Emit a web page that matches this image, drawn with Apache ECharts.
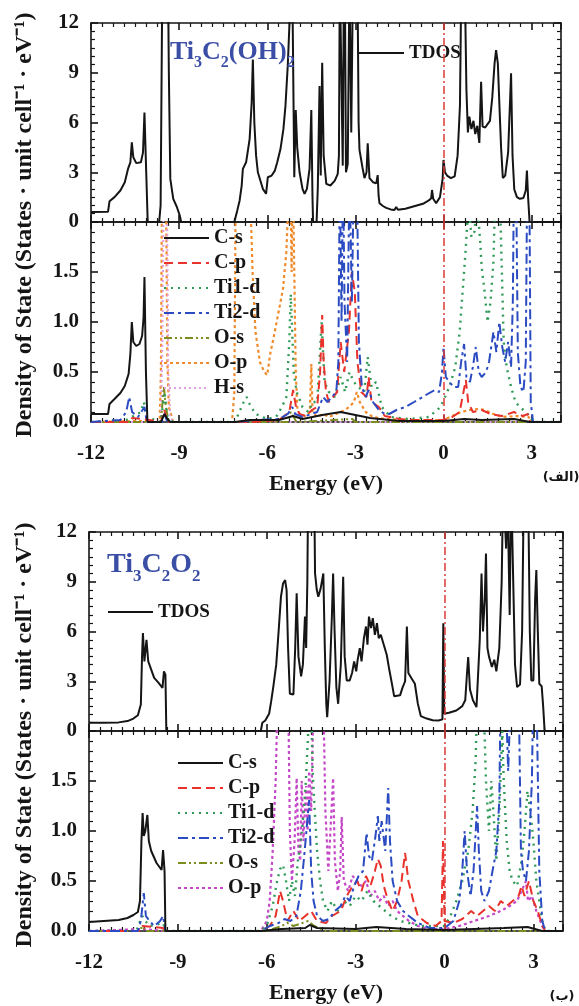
<!DOCTYPE html>
<html><head><meta charset="utf-8">
<script src="https://cdn.jsdelivr.net/npm/echarts@6/dist/echarts.min.js"></script>
<style>html,body{margin:0;padding:0;background:#fff}#c{width:579px;height:1006px}</style>
</head><body><div id="c"></div>
<script>
// ---------------- data ----------------
const X_TICKS = [-12, -9, -6, -3, 0, 3];
const TDOS_TICKS = [0, 3, 6, 9, 12];
const PDOS_TICKS = [0, 0.5, 1, 1.5];
const ORBITALS_A = ['C-s', 'C-p', 'Ti1-d', 'Ti2-d', 'O-s', 'O-p', 'H-s'];
const ORBITALS_B = ['C-s', 'C-p', 'Ti1-d', 'Ti2-d', 'O-s', 'O-p'];

// Panel (الف) Ti3C2(OH)2 total DOS
const A_TDOS = [[-12,0.6],[-11.42,0.62],[-11.37,1.25],[-11.2,1.5],[-11.0,1.9],[-10.85,2.4],[-10.74,3.2],[-10.66,3.6],[-10.61,4.8],[-10.56,3.9],[-10.46,3.55],[-10.3,3.6],[-10.23,4.2],[-10.18,6.6],[-10.12,3.0],[-10.07,0],[-9.68,0],[-9.63,1.0],[-9.6,8],[-9.57,15],[-9.38,15],[-9.35,9],[-9.3,2.6],[-9.2,1.4],[-9.08,0.92],[-8.98,0.4],[-8.93,0],[-7.12,0],[-7.02,0.7],[-6.94,1.3],[-6.87,2.2],[-6.83,3.2],[-6.72,3.6],[-6.6,5.0],[-6.53,7.2],[-6.49,9.8],[-6.44,6],[-6.38,4.0],[-6.32,3.0],[-6.15,2.0],[-6.04,1.7],[-5.98,2.7],[-5.85,2.8],[-5.74,3.1],[-5.66,3.6],[-5.55,4.4],[-5.45,5.6],[-5.38,7],[-5.3,9.5],[-5.22,13],[-5.15,15],[-5.12,15],[-5.08,2.7],[-5.03,6.75],[-4.98,4.5],[-4.9,3.0],[-4.8,2.0],[-4.73,1.7],[-4.65,2.0],[-4.56,3.2],[-4.5,6.75],[-4.46,1.5],[-4.44,0],[-4.32,0],[-4.28,2.0],[-4.22,8.2],[-4.18,2.8],[-4.13,9.6],[-4.08,4.0],[-3.99,2.3],[-3.85,2.2],[-3.7,2.5],[-3.6,2.9],[-3.56,4],[-3.53,15],[-3.47,15],[-3.43,3.4],[-3.39,15],[-3.35,12],[-3.32,3.0],[-3.26,3.5],[-3.2,15],[-3.14,5.4],[-3.08,15],[-2.93,15],[-2.89,6],[-2.86,4.35],[-2.76,3.3],[-2.69,2.65],[-2.62,3.0],[-2.58,4.75],[-2.52,2.65],[-2.4,2.4],[-2.29,2.33],[-2.24,2.83],[-2.21,1.6],[-2.18,1.13],[-2.05,0.95],[-1.95,0.85],[-1.8,0.76],[-1.67,0.72],[-1.61,0.9],[-1.55,0.74],[-1.3,0.8],[-1.0,0.95],[-0.7,1.1],[-0.5,1.3],[-0.42,1.43],[-0.39,1.93],[-0.35,1.4],[-0.25,1.13],[-0.12,1.5],[-0.03,2.6],[0.0,3.74],[0.05,3.0],[0.12,2.8],[0.25,2.65],[0.38,2.75],[0.48,4.0],[0.56,7],[0.61,15],[0.72,15],[0.78,8],[0.83,5.4],[0.88,6.35],[0.95,5.6],[1.02,6.1],[1.08,5.3],[1.15,5.8],[1.22,4.77],[1.28,8.46],[1.33,5.75],[1.42,5.7],[1.5,5.9],[1.58,6.1],[1.66,7.5],[1.74,9.6],[1.79,10.37],[1.85,9.57],[1.9,7.2],[1.96,4.5],[2.02,2.65],[2.1,2.8],[2.2,4.2],[2.27,7.5],[2.3,8.97],[2.35,4],[2.41,1.96],[2.5,1.5],[2.6,1.4],[2.72,1.45],[2.8,1.9],[2.84,3.1],[2.88,1.5],[2.93,0],[4,0]];

// Panel (الف) partial DOS
const A_CS = [[-12,0.08],[-11.42,0.08],[-11.37,0.18],[-11.2,0.23],[-11.0,0.29],[-10.85,0.36],[-10.72,0.48],[-10.66,0.68],[-10.61,1.0],[-10.56,0.8],[-10.46,0.76],[-10.35,0.78],[-10.26,0.86],[-10.21,1.05],[-10.18,1.45],[-10.13,0.5],[-10.08,0],[-9.62,0],[-9.5,0.08],[-9.4,0.03],[-9.3,0],[-7.1,0],[-6.6,0.02],[-5.6,0.02],[-5.12,0.06],[-4.8,0.03],[-4.13,0.07],[-3.5,0.1],[-3.0,0.07],[-2.5,0.04],[-1.5,0.01],[0,0.01],[0.7,0.03],[1.3,0.02],[2.4,0.03],[2.95,0],[4,0]];
const A_CP = [[-12,0],[-10.7,0],[-10.6,0.04],[-10.2,0.03],[-9.62,0],[-9.5,0.12],[-9.4,0],[-6.5,0],[-5.6,0.02],[-5.25,0.1],[-5.12,0.32],[-5.02,0.15],[-4.9,0.08],[-4.7,0.06],[-4.48,0.12],[-4.3,0.15],[-4.2,0.5],[-4.13,1.07],[-4.08,0.6],[-4.0,0.3],[-3.9,0.2],[-3.62,0.3],[-3.5,0.8],[-3.38,0.5],[-3.22,0.9],[-3.12,1.5],[-3.02,1.3],[-2.93,0.6],[-2.8,0.3],[-2.62,0.25],[-2.55,0.45],[-2.45,0.2],[-2.2,0.15],[-2.0,0.06],[-1.5,0.03],[-1,0.02],[0,0.02],[0.3,0.05],[0.55,0.1],[0.68,0.3],[0.76,0.42],[0.84,0.2],[1.0,0.1],[1.3,0.12],[1.6,0.08],[2.0,0.06],[2.4,0.1],[2.7,0.06],[2.88,0.08],[2.95,0],[4,0]];
const A_TI1D = [[-12,0],[-10.8,0.02],[-10.3,0.1],[-10.2,0.2],[-10.12,0.05],[-9.62,0],[-9.5,0.3],[-9.4,0.05],[-9.2,0],[-7.1,0],[-6.95,0.1],[-6.8,0.2],[-6.7,0.25],[-6.6,0.18],[-6.4,0.08],[-6.0,0.03],[-5.7,0.05],[-5.5,0.15],[-5.35,0.25],[-5.25,0.8],[-5.2,1.28],[-5.15,0.9],[-5.1,0.5],[-5.0,0.3],[-4.8,0.15],[-4.6,0.1],[-4.45,0.2],[-4.3,0.2],[-4.15,1.0],[-4.05,0.4],[-3.9,0.3],[-3.7,0.25],[-3.5,0.45],[-3.35,0.3],[-3.2,0.5],[-3.05,0.4],[-2.9,0.35],[-2.7,0.3],[-2.58,0.65],[-2.45,0.35],[-2.3,0.4],[-2.1,0.15],[-1.8,0.05],[-1.2,0.03],[-0.5,0.05],[-0.1,0.15],[0.2,0.35],[0.4,0.55],[0.55,0.9],[0.65,1.3],[0.75,1.7],[0.85,2.2],[0.95,1.85],[1.05,1.9],[1.15,2.2],[1.25,1.8],[1.3,1.55],[1.4,1.3],[1.5,1.0],[1.6,1.2],[1.7,1.6],[1.78,2.5],[1.9,2.5],[1.96,1.8],[2.05,0.8],[2.15,0.55],[2.3,0.35],[2.45,0.2],[2.6,0.15],[2.8,0.1],[2.95,0.05],[3.05,0],[4,0]];
const A_TI2D = [[-12,0],[-11,0.02],[-10.8,0.1],[-10.7,0.25],[-10.6,0.1],[-10.4,0.05],[-10.18,0.15],[-10.1,0],[-9.58,0],[-9.5,0.08],[-9.4,0],[-7,0],[-6.5,0.02],[-5.6,0.03],[-5.3,0.08],[-5.15,0.15],[-5.05,0.08],[-4.8,0.05],[-4.5,0.08],[-4.3,0.1],[-4.1,0.25],[-3.95,0.2],[-3.8,0.25],[-3.65,0.3],[-3.58,0.6],[-3.53,2.5],[-3.47,1.0],[-3.42,2.5],[-3.37,1.2],[-3.28,0.6],[-3.2,2.5],[-3.12,1.2],[-3.05,2.5],[-2.95,2.5],[-2.88,0.8],[-2.78,0.35],[-2.65,0.25],[-2.55,0.32],[-2.4,0.2],[-2.2,0.12],[-2.0,0.08],[-1.85,0.08],[-1.6,0.12],[-1.3,0.15],[-1.0,0.2],[-0.6,0.27],[-0.3,0.32],[-0.15,0.3],[-0.05,0.5],[0.0,0.75],[0.08,0.45],[0.2,0.4],[0.35,0.35],[0.5,0.35],[0.6,0.6],[0.7,0.78],[0.78,0.45],[0.9,0.4],[1.0,0.55],[1.1,0.75],[1.2,0.5],[1.3,0.45],[1.45,0.5],[1.55,0.6],[1.7,0.9],[1.8,0.7],[1.9,1.0],[2.0,0.75],[2.1,0.6],[2.2,0.8],[2.3,0.55],[2.36,1.2],[2.4,2.5],[2.47,2.5],[2.53,0.7],[2.62,0.35],[2.72,0.3],[2.8,0.6],[2.85,2.5],[2.92,2.5],[2.97,0.2],[3.05,0],[4,0]];
const A_OS = [[-12,0],[-9.62,0],[-9.52,0.35],[-9.45,0.15],[-9.35,0],[-5.3,0],[-5.2,0.1],[-5.1,0.05],[-5.0,0],[-3.1,0.03],[-3.0,0],[4,0]];
const A_OP = [[-12,0],[-10.2,0.01],[-9.66,0],[-9.62,0.5],[-9.58,2.5],[-9.45,2.5],[-9.4,0.6],[-9.35,0.15],[-9.2,0],[-7.2,0],[-7.12,0.3],[-7.07,2.5],[-6.6,2.5],[-6.5,1.5],[-6.4,0.9],[-6.25,0.6],[-6.1,0.5],[-6.0,0.47],[-5.9,0.68],[-5.78,0.85],[-5.68,1.0],[-5.55,1.2],[-5.46,1.34],[-5.35,1.7],[-5.28,2.2],[-5.22,2.5],[-5.17,1.5],[-5.13,2.5],[-5.08,2.5],[-5.03,0.5],[-4.98,0.15],[-4.9,0.08],[-4.7,0.06],[-4.55,0.1],[-4.5,0.58],[-4.46,0.1],[-4.3,0.05],[-4.1,0.08],[-3.9,0.05],[-3.5,0.1],[-3.2,0.15],[-3.05,0.2],[-2.95,0.3],[-2.85,0.2],[-2.65,0.1],[-2.4,0.05],[-2.0,0.03],[-1,0.02],[0,0.02],[0.3,0.06],[0.6,0.1],[0.9,0.12],[1.2,0.13],[1.4,0.12],[1.7,0.08],[2.0,0.05],[2.5,0.06],[2.9,0.05],[3.0,0],[4,0]];
const A_HS = [[-12,0],[-9.62,0],[-9.57,0.8],[-9.52,2.5],[-9.42,2.5],[-9.37,0.5],[-9.3,0.05],[-9.2,0],[4,0]];

// Panel (ب) Ti3C2O2 total DOS
const B_TDOS = [[-12,0.5],[-11.5,0.5],[-11,0.52],[-10.7,0.6],[-10.5,0.75],[-10.35,0.95],[-10.25,1.6],[-10.21,4.5],[-10.18,5.9],[-10.13,4.2],[-10.06,5.5],[-10.0,4.2],[-9.9,3.7],[-9.8,3.2],[-9.65,2.9],[-9.52,2.6],[-9.47,3.6],[-9.42,3.4],[-9.39,0],[-6.2,0],[-6.15,0.5],[-6.05,0.63],[-5.92,1.04],[-5.85,1.8],[-5.78,2.65],[-5.68,4.0],[-5.6,6],[-5.52,8.1],[-5.45,8.9],[-5.38,9.1],[-5.33,8.5],[-5.28,5],[-5.22,2.25],[-5.1,2.2],[-5.04,5],[-4.99,8.3],[-4.93,4.5],[-4.84,3.3],[-4.78,4.0],[-4.71,6.9],[-4.67,5.0],[-4.63,9],[-4.6,15],[-4.4,15],[-4.37,9.5],[-4.31,8.5],[-4.26,8.1],[-4.18,8.6],[-4.09,9.5],[-4.04,5],[-3.99,1.64],[-3.96,0.83],[-3.88,3],[-3.8,7],[-3.76,9.5],[-3.71,6],[-3.65,2.65],[-3.59,1.64],[-3.5,4],[-3.42,9.3],[-3.37,4.5],[-3.3,3.05],[-3.2,3.05],[-3.12,3.5],[-3.05,4.2],[-2.98,3.6],[-2.93,4.3],[-2.86,5.0],[-2.8,4.2],[-2.72,5.6],[-2.65,6.3],[-2.6,5.2],[-2.55,6.9],[-2.48,6.2],[-2.42,6.8],[-2.35,5.8],[-2.28,6.5],[-2.22,5.6],[-2.15,5.8],[-2.05,5.2],[-1.95,4.6],[-1.86,3.66],[-1.78,2.9],[-1.7,2.1],[-1.5,2.15],[-1.42,2.6],[-1.33,3.0],[-1.27,6.3],[-1.22,3.5],[-1.12,3.2],[-1.0,2.85],[-0.9,1.65],[-0.8,0.9],[-0.6,0.75],[-0.4,0.65],[-0.2,0.63],[-0.07,0.7],[-0.04,6.5],[-0.01,1.04],[0.15,1.1],[0.4,1.24],[0.6,1.5],[0.7,1.85],[0.76,3.5],[0.8,4.46],[0.86,2.5],[0.96,1.85],[1.08,1.44],[1.15,4],[1.19,5.5],[1.25,9.5],[1.3,6],[1.36,8],[1.4,10.7],[1.45,5],[1.5,4.5],[1.6,3.86],[1.68,4.3],[1.75,3.6],[1.85,5],[1.93,9],[1.98,15],[2.08,11],[2.12,15],[2.2,7],[2.25,15],[2.32,9],[2.38,4],[2.45,2.65],[2.55,2.8],[2.62,6],[2.68,15],[2.75,12],[2.82,15],[2.88,6],[2.93,3.05],[3.0,3.05],[3.06,8],[3.1,9.7],[3.15,6],[3.2,2.85],[3.28,2.7],[3.33,1.5],[3.38,0],[4,0]];

// Panel (ب) partial DOS
const B_CS = [[-12,0.09],[-11.5,0.1],[-11,0.11],[-10.7,0.13],[-10.5,0.16],[-10.35,0.19],[-10.28,0.3],[-10.23,0.9],[-10.19,1.18],[-10.15,0.95],[-10.1,1.0],[-10.03,1.16],[-9.98,0.9],[-9.9,0.8],[-9.72,0.68],[-9.55,0.61],[-9.5,0.81],[-9.45,0.6],[-9.42,0],[-6.2,0],[-5.5,0.02],[-4.7,0.03],[-4.55,0.06],[-4.3,0.03],[-3,0.02],[-2.3,0.04],[-1.3,0.02],[0,0.01],[1,0.02],[2,0.03],[2.8,0.04],[3.3,0],[4,0]];
const B_CP = [[-12,0],[-10.3,0],[-10.2,0.05],[-9.5,0.03],[-9.4,0],[-6.2,0],[-5.9,0.05],[-5.7,0.15],[-5.55,0.4],[-5.45,0.3],[-5.3,0.1],[-5.1,0.2],[-4.9,0.1],[-4.7,0.15],[-4.5,0.2],[-4.3,0.1],[-4.0,0.08],[-3.8,0.15],[-3.5,0.2],[-3.3,0.35],[-3.1,0.45],[-2.95,0.5],[-2.8,0.4],[-2.65,0.55],[-2.5,0.45],[-2.35,0.6],[-2.25,0.72],[-2.15,0.65],[-2.05,0.45],[-1.9,0.3],[-1.75,0.2],[-1.6,0.3],[-1.45,0.5],[-1.33,0.78],[-1.22,0.5],[-1.05,0.3],[-0.9,0.15],[-0.6,0.08],[-0.3,0.05],[-0.1,0.1],[-0.05,0.9],[0.0,0.1],[0.3,0.08],[0.6,0.12],[0.9,0.2],[1.1,0.15],[1.3,0.2],[1.5,0.25],[1.7,0.2],[1.9,0.3],[2.1,0.25],[2.3,0.3],[2.5,0.35],[2.6,0.45],[2.7,0.35],[2.85,0.5],[3.0,0.3],[3.15,0.2],[3.3,0.05],[3.4,0],[4,0]];
const B_TI1D = [[-12,0],[-10.4,0],[-10.3,0.08],[-10.2,0.15],[-10.1,0.1],[-9.95,0.05],[-9.5,0.08],[-9.4,0],[-6.2,0],[-6.0,0.05],[-5.8,0.25],[-5.65,0.5],[-5.55,0.62],[-5.45,0.66],[-5.35,0.5],[-5.25,0.3],[-5.15,0.5],[-5.05,0.35],[-4.95,0.7],[-4.85,0.9],[-4.75,1.2],[-4.68,1.5],[-4.6,2.0],[-4.52,2.5],[-4.45,1.6],[-4.38,1.2],[-4.3,0.8],[-4.2,0.5],[-4.1,0.3],[-3.95,0.2],[-3.8,0.3],[-3.6,0.2],[-3.4,0.3],[-3.2,0.25],[-3.0,0.35],[-2.8,0.3],[-2.6,0.4],[-2.4,0.3],[-2.2,0.25],[-2.0,0.2],[-1.8,0.15],[-1.5,0.1],[-1.2,0.08],[-0.8,0.05],[-0.3,0.05],[0,0.05],[0.2,0.15],[0.4,0.3],[0.6,0.5],[0.8,0.8],[0.95,1.2],[1.05,1.7],[1.12,2.5],[1.3,2.5],[1.4,1.5],[1.5,1.0],[1.58,1.5],[1.65,1.2],[1.75,0.7],[1.85,1.2],[1.95,2.0],[2.0,1.5],[2.1,0.9],[2.2,0.6],[2.3,0.5],[2.45,0.45],[2.6,0.7],[2.7,1.0],[2.8,1.4],[2.9,1.2],[3.0,0.9],[3.1,0.5],[3.2,0.3],[3.3,0.1],[3.4,0],[4,0]];
const B_TI2D = [[-12,0],[-10.35,0],[-10.25,0.1],[-10.15,0.38],[-10.08,0.15],[-9.95,0.1],[-9.8,0.05],[-9.6,0.1],[-9.5,0.15],[-9.42,0],[-6.2,0],[-5.9,0.05],[-5.6,0.08],[-5.4,0.12],[-5.2,0.1],[-5.0,0.15],[-4.85,0.4],[-4.72,0.8],[-4.57,1.31],[-4.5,0.6],[-4.42,0.3],[-4.3,0.15],[-4.1,0.1],[-3.9,0.12],[-3.7,0.2],[-3.5,0.25],[-3.35,0.35],[-3.2,0.3],[-3.05,0.45],[-2.9,0.55],[-2.75,0.6],[-2.63,0.98],[-2.55,0.75],[-2.45,0.7],[-2.33,0.95],[-2.25,1.15],[-2.2,0.9],[-2.12,1.1],[-2.0,0.8],[-1.9,1.43],[-1.84,0.9],[-1.75,0.5],[-1.6,0.3],[-1.4,0.2],[-1.2,0.15],[-0.9,0.08],[-0.5,0.03],[0,0.03],[0.3,0.1],[0.5,0.3],[0.6,0.6],[0.68,1.0],[0.76,0.6],[0.88,0.35],[0.98,0.6],[1.1,1.25],[1.16,0.8],[1.24,0.4],[1.35,0.3],[1.5,0.4],[1.62,0.6],[1.75,0.8],[1.85,1.3],[1.9,2.5],[2.05,2.5],[2.15,1.6],[2.25,2.5],[2.5,2.5],[2.58,0.8],[2.65,0.6],[2.75,0.5],[2.85,0.8],[2.95,1.5],[3.0,2.5],[3.1,2.5],[3.2,0.6],[3.3,0.1],[3.4,0],[4,0]];
const B_OS = [[-12,0],[-10.3,0],[-10.2,0.05],[-10.1,0],[-6,0],[-5.5,0.05],[-5.3,0.08],[-5.1,0.05],[-4.6,0.1],[-4.4,0.05],[-4.0,0],[4,0]];
const B_OP = [[-12,0],[-10.2,0.02],[-9.4,0],[-6.2,0],[-6.0,0.1],[-5.9,0.3],[-5.8,0.8],[-5.7,1.5],[-5.62,2.5],[-5.28,2.5],[-5.22,1.0],[-5.15,0.5],[-5.06,0.9],[-4.99,1.53],[-4.93,0.8],[-4.87,0.7],[-4.82,1.5],[-4.76,0.9],[-4.67,1.45],[-4.62,1.0],[-4.57,1.6],[-4.5,1.2],[-4.45,1.9],[-4.4,2.5],[-4.1,2.5],[-4.02,1.2],[-3.92,0.6],[-3.85,1.0],[-3.76,1.53],[-3.7,0.7],[-3.6,0.4],[-3.52,0.6],[-3.47,1.14],[-3.4,0.5],[-3.25,0.4],[-3.1,0.55],[-2.95,0.5],[-2.8,0.45],[-2.65,0.5],[-2.5,0.35],[-2.35,0.4],[-2.2,0.3],[-2.05,0.35],[-1.9,0.25],[-1.75,0.3],[-1.6,0.2],[-1.4,0.15],[-1.2,0.1],[-0.9,0.05],[-0.5,0.02],[0,0.02],[0.5,0.05],[1.0,0.1],[1.5,0.15],[1.9,0.2],[2.2,0.25],[2.45,0.3],[2.6,0.4],[2.75,0.5],[2.82,0.3],[2.95,0.35],[3.1,0.2],[3.3,0.05],[3.4,0],[4,0]];

// ---------------- styling / layout ----------------
const SERIF = 'Liberation Serif';
const INK = '#151515';
const STY = {
  'TDOS':  {color: INK, type: 'solid', width: 2},
  'C-s':   {color: INK, type: 'solid', width: 2},
  'C-p':   {color: '#e8322b', type: [9, 5], width: 2},
  'Ti1-d': {color: '#2f9a55', type: [2, 5], width: 2.4},
  'Ti2-d': {color: '#2a4bc2', type: [10, 4, 3, 4], width: 2},
  'O-s':   {color: '#7d8c1e', type: [8, 3, 2, 3, 2, 3], width: 2},
  'O-pA':  {color: '#f08a2a', type: [3, 3], width: 2.2},
  'O-pB':  {color: '#c548c8', type: [3, 3], width: 2.2},
  'H-s':   {color: '#e2a0e2', type: [2, 3], width: 2}
};
const DATA = {
  A: {TDOS: A_TDOS, 'C-s': A_CS, 'C-p': A_CP, 'Ti1-d': A_TI1D, 'Ti2-d': A_TI2D, 'O-s': A_OS, 'O-p': A_OP, 'H-s': A_HS},
  B: {TDOS: B_TDOS, 'C-s': B_CS, 'C-p': B_CP, 'Ti1-d': B_TI1D, 'Ti2-d': B_TI2D, 'O-s': B_OS, 'O-p': B_OP}
};
// grids: 0 A-top, 1 A-bottom, 2 B-top, 3 B-bottom
const GRIDS = [
  {left: 91, top: 23, width: 470, height: 199},
  {left: 91, top: 222, width: 470, height: 200},
  {left: 89, top: 532, width: 474, height: 199},
  {left: 89, top: 731, width: 474, height: 200}
];
const labelFont = {fontFamily: SERIF, fontWeight: 'bold', fontSize: 21, color: INK};
const lineSt = {color: INK, width: 1.6};

const xAxes = [], yAxes = [];
GRIDS.forEach((g, gi) => {
  const isBottom = gi % 2 === 1;
  ['bottom', 'top'].forEach(pos => {
    xAxes.push({
      gridIndex: gi, type: 'value', min: -12, max: 4, interval: 3, position: pos,
      axisLine: {show: true, onZero: false, lineStyle: lineSt},
      axisTick: {show: true, inside: true, length: 7, lineStyle: lineSt},
      minorTick: {show: true, splitNumber: 8, length: 4, lineStyle: {color: INK, width: 1.2}},
      splitLine: {show: false}, minorSplitLine: {show: false},
      axisLabel: {show: isBottom && pos === 'bottom', margin: 21, ...labelFont,
        formatter: v => X_TICKS.includes(v) ? String(v) : ''},
      name: (isBottom && pos === 'bottom') ? 'Energy (eV)' : '',
      nameLocation: 'middle', nameGap: 51,
      nameTextStyle: {fontFamily: SERIF, fontWeight: 'bold', fontSize: 22, color: INK}
    });
  });
  ['left', 'right'].forEach(pos => {
    yAxes.push({
      gridIndex: gi, type: 'value', min: 0, max: isBottom ? 2 : 12, interval: isBottom ? 0.5 : 3, position: pos,
      axisLine: {show: true, onZero: false, lineStyle: lineSt},
      axisTick: {show: true, inside: true, length: 7, lineStyle: lineSt},
      minorTick: {show: true, splitNumber: isBottom ? 5 : 6, length: 4, lineStyle: {color: INK, width: 1.2}},
      splitLine: {show: false}, minorSplitLine: {show: false},
      axisLabel: {show: pos === 'left', margin: 12, ...labelFont,
        formatter: isBottom ? (v => PDOS_TICKS.includes(v) ? v.toFixed(1) : '')
                            : (v => TDOS_TICKS.includes(v) ? String(v) : '')}
    });
  });
});

const fermi = {
  silent: true, symbol: ['none', 'none'], label: {show: false},
  lineStyle: {color: '#e03a3a', type: [8, 3, 2, 3], width: 1.5},
  data: [{xAxis: 0}], animation: false
};

const series = [];
function addSeries(panel, key, gi) {
  const st = key === 'O-p' ? STY['O-p' + panel] : STY[key];
  series.push({
    name: panel + ':' + key, type: 'line', xAxisIndex: gi * 2, yAxisIndex: gi * 2,
    data: DATA[panel][key], symbol: 'none', showSymbol: false, clip: true,
    lineStyle: {color: st.color, width: st.width, type: st.type, cap: 'butt'},
    itemStyle: {color: st.color}, animation: false, silent: true,
    markLine: (key === 'TDOS' || key === 'C-s') ? fermi : undefined,
    z: key === 'C-s' ? 5 : 3
  });
}
addSeries('A', 'TDOS', 0);
['O-p', 'H-s', 'O-s', 'Ti1-d', 'C-p', 'Ti2-d', 'C-s'].forEach(k => addSeries('A', k, 1));
addSeries('B', 'TDOS', 2);
['O-p', 'O-s', 'Ti1-d', 'C-p', 'Ti2-d', 'C-s'].forEach(k => addSeries('B', k, 3));

function legendOf(names, left, top, fs) {
  return {
    data: names, left: left, top: top, orient: 'vertical', itemGap: 5,
    itemWidth: 45, itemHeight: 14, padding: 0, selectedMode: false,
    formatter: n => n.slice(2),
    textStyle: {fontFamily: SERIF, fontWeight: 'bold', fontSize: fs, color: INK, lineHeight: 20},
    itemStyle: {opacity: 0, borderWidth: 0, color: 'rgba(0,0,0,0)'},
    lineStyle: {width: 2}
  };
}

const subRich = (big, small) => ({
  m: {fontSize: big, fontFamily: SERIF, fontWeight: 'bold', fill: '#3a4ea6', verticalAlign: 'bottom', padding: [0, 0, 6, 0]},
  s: {fontSize: small, fontFamily: SERIF, fontWeight: 'bold', fill: '#3a4ea6', verticalAlign: 'bottom'}
});
const yTitle = 'Density of State (States · unit cell⁻¹ · eV⁻¹)';

const option = {
  animation: false,
  backgroundColor: '#ffffff',
  grid: GRIDS.map(g => ({...g, containLabel: false, outerBoundsMode: 'none'})),
  xAxis: xAxes, yAxis: yAxes,
  legend: [
    legendOf(['A:TDOS'], 358, 43, 19),
    legendOf(ORBITALS_A.map(k => 'A:' + k), 163, 228, 20),
    legendOf(['B:TDOS'], 107, 602, 19),
    legendOf(ORBITALS_B.map(k => 'B:' + k), 177, 753, 20)
  ],
  series: series,
  graphic: [
    {type: 'text', x: 25, y: 225, rotation: Math.PI / 2, silent: true,
      style: {text: yTitle, fontFamily: SERIF, fontWeight: 'bold', fontSize: 24, fill: INK, align: 'center', verticalAlign: 'middle'}},
    {type: 'text', x: 25, y: 735, rotation: Math.PI / 2, silent: true,
      style: {text: yTitle, fontFamily: SERIF, fontWeight: 'bold', fontSize: 24, fill: INK, align: 'center', verticalAlign: 'middle'}},
    {type: 'text', x: 170, y: 39, silent: true, z: 100,
      style: {text: '{m|Ti}{s|3}{m|C}{s|2}{m|(OH)}{s|2}', rich: subRich(26, 16), fill: '#3a4ea6'}},
    {type: 'text', x: 107, y: 551, silent: true, z: 100,
      style: {text: '{m|Ti}{s|3}{m|C}{s|2}{m|O}{s|2}', rich: subRich(28, 17), fill: '#3a4ea6'}},
    {type: 'text', x: 561, y: 478, silent: true,
      style: {text: '(الف)', fontFamily: 'DejaVu Sans', fontWeight: 'bold', fontSize: 13, fill: INK, align: 'center', verticalAlign: 'middle'}},
    {type: 'text', x: 562, y: 997, silent: true,
      style: {text: '(ب)', fontFamily: 'DejaVu Sans', fontWeight: 'bold', fontSize: 13, fill: INK, align: 'center', verticalAlign: 'middle'}}
  ]
};

const chart = echarts.init(document.getElementById('c'), null, {renderer: 'canvas'});
chart.setOption(option);
</script>
</body></html>
